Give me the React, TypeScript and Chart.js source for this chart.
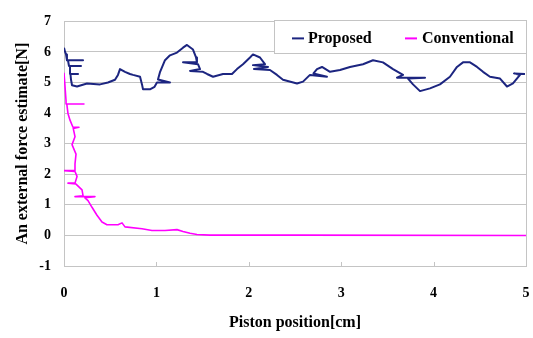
import React, { useEffect, useRef } from "react";
import { Chart, registerables } from "chart.js";

Chart.register(...registerables);

// ---- data ----
const xTicks = [0, 1, 2, 3, 4, 5];
const yTicks = [-1, 0, 1, 2, 3, 4, 5, 6, 7];

const proposedX = [
  0, 0.011, 0.022, 0.032, 0.206, 0.043, 0.054, 0.184, 0.065, 0.065, 0.152, 0.07, 0.076, 0.087, 0.141,
  0.249, 0.39, 0.476, 0.552, 0.584, 0.606, 0.66, 0.714, 0.747, 0.823, 0.844, 0.855, 0.93, 0.98, 1.006,
  1.147, 1.017, 1.04, 1.093, 1.147, 1.223, 1.288, 1.331, 1.396, 1.429, 1.439, 1.288, 1.45, 1.472, 1.364,
  1.504, 1.548, 1.613, 1.721, 1.818, 1.872, 1.937, 2.013, 2.045, 2.121, 2.175, 2.045, 2.208, 2.056, 2.229,
  2.305, 2.37, 2.522, 2.587, 2.662, 2.846, 2.7, 2.738, 2.792, 2.879, 2.987, 3.095, 3.236, 3.344, 3.452,
  3.561, 3.669, 3.604, 3.907, 3.723, 3.777, 3.853, 3.961, 4.069, 4.177, 4.253, 4.318, 4.394, 4.47, 4.535,
  4.61, 4.719, 4.794, 4.859, 4.935, 4.87, 4.989,
];
const proposedY = [
  6.14, 6.01, 5.92, 5.73, 5.73, 5.73, 5.54, 5.54, 5.54, 5.28, 5.28, 5.28, 5.09, 4.91, 4.87,
  4.97, 4.94, 5.0, 5.09, 5.25, 5.44, 5.35, 5.28, 5.25, 5.19, 4.94, 4.78, 4.78, 4.86, 5.0,
  5.0, 5.1, 5.35, 5.73, 5.89, 5.98, 6.14, 6.23, 6.08, 5.82, 5.66, 5.66, 5.6, 5.44, 5.38,
  5.35, 5.28, 5.19, 5.28, 5.28, 5.44, 5.6, 5.82, 5.92, 5.82, 5.6, 5.57, 5.51, 5.44, 5.41,
  5.25, 5.09, 4.97, 5.03, 5.25, 5.19, 5.3, 5.44, 5.51, 5.35, 5.41, 5.51, 5.6, 5.73, 5.66,
  5.44, 5.25, 5.16, 5.16, 5.13, 4.94, 4.72, 4.81, 4.94, 5.19, 5.51, 5.66, 5.66, 5.51, 5.35,
  5.19, 5.13, 4.87, 4.97, 5.25, 5.3, 5.28,
];

const conventionalX = [
  0, 0.011, 0.022, 0.022, 0.216, 0.03, 0.043, 0.065, 0.097, 0.162, 0.1, 0.119, 0.087, 0.13, 0.119,
  0.119, 0, 0.119, 0.141, 0.119, 0.043, 0.13, 0.195, 0.206, 0.119, 0.335, 0.227, 0.26, 0.303, 0.357,
  0.411, 0.465, 0.584, 0.628, 0.66, 0.844, 0.952, 1.093, 1.223, 1.288, 1.364, 1.439, 1.58, 2.55, 5,
];
const conventionalY = [
  5.32, 4.87, 4.4, 4.3, 4.3, 4.3, 3.99, 3.77, 3.54, 3.54, 3.5, 3.23, 2.97, 2.66, 2.34,
  2.12, 2.12, 2.09, 1.93, 1.71, 1.71, 1.68, 1.49, 1.3, 1.27, 1.27, 1.23, 1.14, 0.92, 0.66,
  0.44, 0.35, 0.35, 0.41, 0.28, 0.22, 0.16, 0.16, 0.19, 0.13, 0.07, 0.03, 0.01, 0.01, 0,
];

const seriesNames = ["Proposed", "Conventional"];
const seriesColors = ["#1c2580", "#ff00ff"];

const FONT = "'Liberation Serif', 'Times New Roman', serif";
const GRID = "#c4c4c4";

const toPoints = (xs: number[], ys: number[]) => xs.map((x, i) => ({ x, y: ys[i] }));

const framePlugin = {
  id: "frame",
  beforeDatasetsDraw(chart: any) {
    const { ctx, chartArea: a, scales } = chart;
    ctx.save();
    ctx.strokeStyle = GRID;
    ctx.lineWidth = 1;
    ctx.beginPath();
    ctx.moveTo(Math.round(a.right) + 0.5, a.top);
    ctx.lineTo(Math.round(a.right) + 0.5, a.bottom);
    xTicks.slice(1, -1).forEach((v) => {
      const px = Math.round(scales.x.getPixelForValue(v)) + 0.5;
      ctx.moveTo(px, a.bottom);
      ctx.lineTo(px, a.bottom - 4);
    });
    ctx.stroke();
    ctx.restore();
  },
  afterDraw(chart: any) {
    const { ctx, chartArea: a } = chart;
    const w = 252;
    const h = 33;
    const left = a.right - w;
    const top = a.top - 1;
    ctx.save();
    ctx.fillStyle = "#ffffff";
    ctx.fillRect(left, top, w, h);
    ctx.strokeStyle = GRID;
    ctx.lineWidth = 1;
    ctx.strokeRect(Math.round(left) + 0.5, Math.round(top) + 0.5, w, h);
    ctx.font = `bold 16px ${FONT}`;
    ctx.textBaseline = "middle";
    ctx.fillStyle = "#000";
    const cy = top + 18;
    const entries = [
      { sx: left + 18, tx: left + 34 },
      { sx: left + 131, tx: left + 148 },
    ];
    entries.forEach((e, i) => {
      ctx.strokeStyle = seriesColors[i];
      ctx.lineWidth = 2;
      ctx.beginPath();
      ctx.moveTo(e.sx, cy);
      ctx.lineTo(e.sx + 12, cy);
      ctx.stroke();
      ctx.fillText(seriesNames[i], e.tx, cy);
    });
    ctx.restore();
  },
};

export default function App() {
  const ref = useRef<HTMLCanvasElement>(null);
  useEffect(() => {
    if (!ref.current) return;
    const chart = new Chart(ref.current, {
      type: "scatter",
      data: {
        datasets: [
          {
            label: seriesNames[0],
            data: toPoints(proposedX, proposedY),
            showLine: true,
            borderColor: seriesColors[0],
            borderWidth: 2,
            borderJoinStyle: "round",
            pointRadius: 0,
            tension: 0,
          },
          {
            label: seriesNames[1],
            data: toPoints(conventionalX, conventionalY),
            showLine: true,
            borderColor: seriesColors[1],
            borderWidth: 1.6,
            borderJoinStyle: "round",
            pointRadius: 0,
            tension: 0,
          },
        ],
      },
      options: {
        animation: false,
        responsive: false,
        layout: { padding: { left: 0, right: 7, top: 13, bottom: 0 } },
        plugins: { legend: { display: false }, tooltip: { enabled: false } },
        scales: {
          x: {
            type: "linear",
            min: 0,
            max: 5,
            afterBuildTicks: (s: any) => {
              s.ticks = xTicks.map((v) => ({ value: v }));
            },
            afterFit: (s: any) => {
              s.height = 72;
              s.paddingLeft = 0;
              s.paddingRight = 0;
            },
            grid: { display: false, drawTicks: false },
            border: { display: true, color: GRID, width: 1 },
            ticks: { color: "#000", font: { family: FONT, size: 14, weight: "bold" }, padding: 19, maxRotation: 0 },
            title: {
              display: true,
              text: "Piston position[cm]",
              color: "#000",
              font: { family: FONT, size: 16, weight: "bold" },
              padding: { top: 0, bottom: 6 },
            },
          },
          y: {
            type: "linear",
            min: -1,
            max: 7,
            afterBuildTicks: (s: any) => {
              s.ticks = yTicks.map((v) => ({ value: v }));
            },
            afterFit: (s: any) => {
              s.width = 64;
            },
            grid: { color: GRID, lineWidth: 1, drawTicks: false },
            border: { display: true, color: GRID, width: 1 },
            ticks: { color: "#000", font: { family: FONT, size: 14, weight: "bold" }, padding: 13 },
            title: {
              display: true,
              text: "An external force estimate[N]",
              color: "#000",
              font: { family: FONT, size: 16, weight: "bold" },
              padding: { top: 13, bottom: 0 },
            },
          },
        },
      },
      plugins: [framePlugin],
    });
    return () => chart.destroy();
  }, []);
  return (
    <div style={{ position: "absolute", left: 0, top: 0, width: 533, height: 338, background: "#fff" }}>
      <canvas ref={ref} width={533} height={338} style={{ display: "block" }} />
    </div>
  );
}
